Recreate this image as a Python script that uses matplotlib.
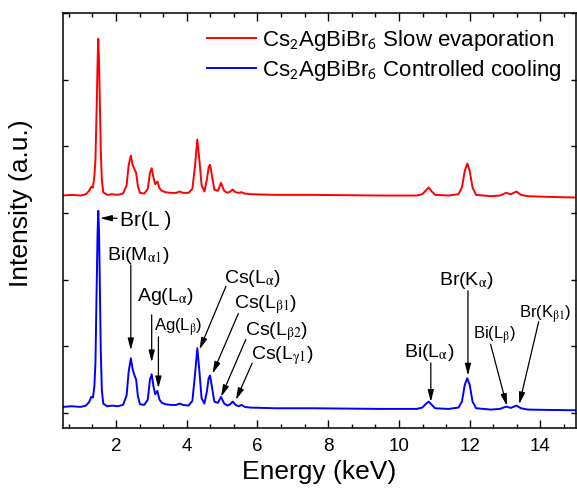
import matplotlib
matplotlib.use('Agg')
import matplotlib.pyplot as plt
from matplotlib.ticker import MultipleLocator, NullFormatter

plt.rcParams['font.family'] = ['Liberation Sans', 'DejaVu Sans']
plt.rcParams['mathtext.fontset'] = 'stix'

# energy grid (keV) shared by both spectra
energy = [0.50, 0.75, 1.00, 1.15, 1.24, 1.30, 1.35, 1.39, 1.42, 1.46, 1.48, 1.50,
          1.52, 1.54, 1.57, 1.60, 1.64, 1.75, 1.90, 2.05, 2.20, 2.30, 2.36, 2.42,
          2.47, 2.52, 2.57, 2.62, 2.68, 2.80, 2.90, 2.96, 3.01, 3.06, 3.11, 3.17,
          3.23, 3.30, 3.40, 3.55, 3.70, 3.80, 3.90, 4.05, 4.16, 4.23, 4.30, 4.36,
          4.42, 4.50, 4.57, 4.62, 4.66, 4.71, 4.78, 4.88, 4.97, 5.06, 5.15, 5.23,
          5.30, 5.38, 5.47, 5.55, 5.64, 5.80, 6.50, 7.50, 8.50, 9.50, 10.50, 10.66,
          10.75, 10.84, 10.93, 11.02, 11.40, 11.68, 11.78, 11.86, 11.93, 12.00, 12.08, 12.18,
          12.60, 12.85, 13.03, 13.16, 13.32, 13.45, 13.65, 14.20, 15.00]

# controlled cooling (blue, lower trace)
cooling = [0.09, 0.10, 0.09, 0.11, 0.16, 0.24, 0.23, 0.40, 0.75, 2.05, 2.70, 3.03,
           2.75, 2.10, 0.95, 0.35, 0.14, 0.10, 0.11, 0.10, 0.12, 0.26, 0.62, 0.82,
           0.66, 0.57, 0.50, 0.25, 0.13, 0.12, 0.20, 0.50, 0.58, 0.40, 0.28, 0.33,
           0.20, 0.15, 0.13, 0.12, 0.12, 0.14, 0.12, 0.11, 0.18, 0.55, 0.97, 0.62,
           0.22, 0.14, 0.32, 0.52, 0.56, 0.40, 0.17, 0.15, 0.24, 0.14, 0.11, 0.13,
           0.17, 0.12, 0.10, 0.12, 0.09, 0.08, 0.07, 0.07, 0.065, 0.06, 0.06, 0.08,
           0.13, 0.17, 0.12, 0.07, 0.06, 0.08, 0.17, 0.42, 0.52, 0.42, 0.17, 0.07,
           0.05, 0.06, 0.095, 0.075, 0.11, 0.07, 0.05, 0.045, 0.04]

# slow evaporation (red, upper trace, offset)
evaporation = [3.26, 3.27, 3.26, 3.28, 3.33, 3.39, 3.38, 3.55, 3.80, 4.70, 5.25, 5.61,
               5.30, 4.80, 3.95, 3.50, 3.31, 3.27, 3.28, 3.27, 3.29, 3.41, 3.72, 3.86,
               3.72, 3.66, 3.60, 3.40, 3.30, 3.29, 3.36, 3.60, 3.67, 3.53, 3.43, 3.47,
               3.37, 3.33, 3.31, 3.30, 3.30, 3.32, 3.30, 3.30, 3.36, 3.68, 4.10, 3.78,
               3.42, 3.32, 3.50, 3.68, 3.72, 3.57, 3.35, 3.33, 3.45, 3.33, 3.30, 3.32,
               3.35, 3.31, 3.30, 3.31, 3.29, 3.28, 3.27, 3.27, 3.265, 3.26, 3.26, 3.28,
               3.33, 3.38, 3.32, 3.27, 3.26, 3.28, 3.38, 3.63, 3.74, 3.63, 3.38, 3.27,
               3.25, 3.26, 3.30, 3.28, 3.32, 3.27, 3.25, 3.24, 3.23]

# peak labels: text, text position, arrow tail, arrow head, font size
labels = [r'Bi(M$_{\mathrm{\alpha 1}}$)', r'Ag(L$_{\mathrm{\alpha}}$)', r'Ag(L$_{\mathrm{\beta}}$)',
          r'Cs(L$_{\mathrm{\alpha}}$)', r'Cs(L$_{\mathrm{\beta 1}}$)', r'Cs(L$_{\mathrm{\beta 2}}$)',
          r'Cs(L$_{\mathrm{\gamma 1}}$)', r'Bi(L$_{\mathrm{\alpha}}$)', r'Br(K$_{\mathrm{\alpha}}$)',
          r'Bi(L$_{\mathrm{\beta}}$)', r'Br(K$_{\mathrm{\beta 1}}$)']
label_xy = [(2.63, 2.36), (3.39, 1.75), (3.75, 1.29), (5.85, 2.01), (6.24, 1.62),
            (6.53, 1.22), (6.72, 0.86), (10.87, 0.91), (11.90, 1.99), (12.69, 1.17),
            (14.13, 1.48)]
arrow_tail = [(2.42, 2.22), (3.01, 1.47), (3.20, 1.14), (5.11, 1.90), (5.46, 1.49),
              (5.67, 1.10), (5.85, 0.745), (10.90, 0.75), (11.95, 1.83), (12.59, 1.03),
              (13.95, 1.37)]
arrow_head = [(2.42, 0.94), (3.01, 0.76), (3.20, 0.37), (4.36, 0.95), (4.73, 0.59),
              (4.97, 0.24), (5.39, 0.195), (10.90, 0.165), (11.95, 0.56), (13.05, 0.105),
              (13.40, 0.13)]
label_size = [14, 14, 12, 14, 14, 14, 14, 14, 14, 12, 12]

fig = plt.figure(figsize=(5.77, 4.93), dpi=100)
ax = fig.add_axes([0.109, 0.132, 0.889, 0.842])

ax.plot(energy, evaporation, color='#FF0000', lw=1.4,
        label=r'Cs$_\mathsf{2}$AgBiBr$_\mathsf{6}$ Slow evaporation')
ax.plot(energy, cooling, color='#0000FF', lw=1.4,
        label=r'Cs$_\mathsf{2}$AgBiBr$_\mathsf{6}$ Controlled cooling')

arrow_style = dict(arrowstyle='-|>,head_length=0.7,head_width=0.18', color='black',
                   lw=0.9, shrinkA=0, shrinkB=0)
for txt, pos, tail, head, fs in zip(labels, label_xy, arrow_tail, arrow_head, label_size):
    ax.annotate('', xy=head, xytext=tail, arrowprops=arrow_style)
    ax.text(pos[0], pos[1], txt, fontsize=fs, ha='center', va='center')

# Br(L) label with horizontal arrow
ax.annotate('', xy=(1.55, 2.92), xytext=(2.03, 2.92), arrowprops=arrow_style)
ax.text(2.12, 2.89, 'Br(L )', fontsize=15, ha='left', va='center')

ax.set_xlim(0.5, 15)
ax.set_ylim(-0.225, 6.0)
ax.xaxis.set_major_locator(MultipleLocator(2))
ax.xaxis.set_minor_locator(MultipleLocator(2 / 3))
ax.yaxis.set_major_locator(MultipleLocator(1))
ax.yaxis.set_major_formatter(NullFormatter())
ax.tick_params(which='both', direction='in', top=True, right=True, width=1.0)
ax.tick_params(axis='x', which='major', length=5.5, labelsize=13.5, pad=7)
ax.tick_params(axis='x', which='minor', length=3)
ax.tick_params(axis='y', which='major', length=3.5)
for sp in ax.spines.values():
    sp.set_linewidth(1.1)

ax.set_xlabel('Energy (keV)', fontsize=19, labelpad=4)
ax.set_ylabel('Intensity (a.u.)', fontsize=19)
ax.yaxis.set_label_coords(-0.058, 0.542)

ax.legend(loc='upper right', frameon=False, fontsize=16, handlelength=2.2,
          handletextpad=0.27, labelspacing=0.22, borderaxespad=0.0,
          bbox_to_anchor=(0.99, 0.985))

fig.savefig('out.png', dpi=100)
